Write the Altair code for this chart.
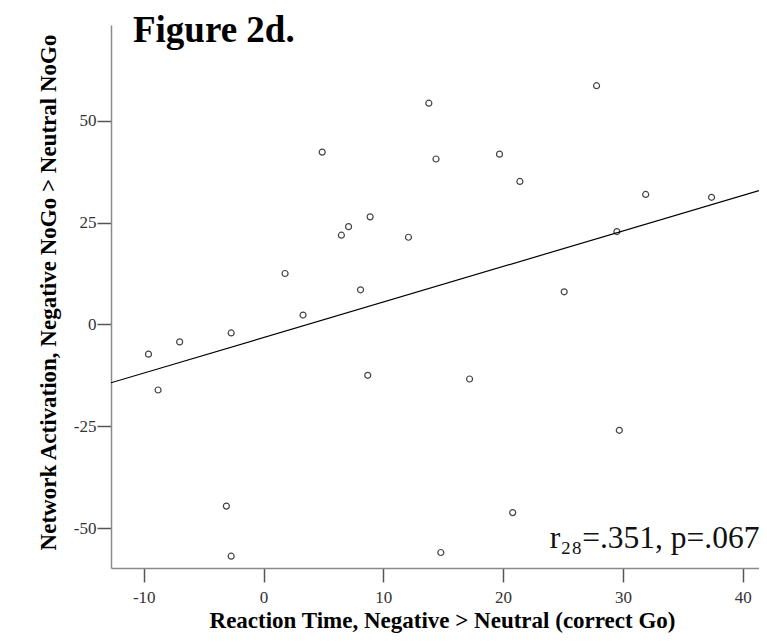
import altair as alt
import pandas as pd

# Scatter data
rt_diff = [13.8, 27.8, 14.4, 19.7, 21.4, 31.9, 37.4, 4.9, 6.5, 7.1, 8.9, 1.8, 8.1, 3.3,
           -2.7, -7.0, -9.6, -8.8, 8.7, 12.1, 29.5, 25.1, 17.2, -3.1, -2.7, 29.7, 20.8, 14.8]
activation = [54.3, 58.6, 40.6, 41.8, 35.1, 31.9, 31.2, 42.3, 21.9, 24.0, 26.4, 12.5, 8.5, 2.3,
              -2.1, -4.3, -7.3, -16.1, -12.5, 21.4, 22.8, 8.0, -13.4, -44.6, -56.9, -26.0, -46.2, -56.0]

x_ticks = [-10, 0, 10, 20, 30, 40]
y_ticks = [-50, -25, 0, 25, 50]
x_domain = [-12.73, 41.36]
y_domain = [-59.8, 73.5]

# Annotations placed in data coordinates
ann_text = ["r\u2082\u2088=.351, p=.067"]
ann_x = [41.4]
ann_y = [-55.0]

fig_text = ["Figure 2d."]
fig_x = [-10.9]
fig_y = [69.4]

df = pd.DataFrame({"rt": rt_diff, "act": activation})
ann = pd.DataFrame({"x": ann_x, "y": ann_y, "t": ann_text})
fig = pd.DataFrame({"x": fig_x, "y": fig_y, "t": fig_text})

SERIF = "Liberation Serif"

x_axis = alt.Axis(values=x_ticks, grid=False, tickSize=14, labelPadding=7,
                  labelFontSize=17, labelFont=SERIF, labelColor="#333333",
                  labelExpr="'' + datum.value",
                  domainColor="#8a8a8a", domainWidth=1.5, tickColor="#555555", tickWidth=1.5,
                  title="Reaction Time, Negative > Neutral (correct Go)",
                  titleFont=SERIF, titleFontSize=23, titleFontWeight="bold", titleColor="black",
                  titleY=59, titleX=331, titleBaseline="alphabetic")
y_axis = alt.Axis(values=y_ticks, grid=False, tickSize=14, labelPadding=1,
                  labelFontSize=17, labelFont=SERIF, labelColor="#333333",
                  labelExpr="'' + datum.value",
                  domainColor="#8a8a8a", domainWidth=1.5, tickColor="#555555", tickWidth=1.5,
                  title="Network Activation, Negative NoGo > Neutral NoGo",
                  titleFont=SERIF, titleFontSize=23, titleFontWeight="bold", titleColor="black",
                  titleX=-56, titleY=267, titleBaseline="alphabetic")

xs = alt.Scale(domain=x_domain, nice=False, zero=False)
ys = alt.Scale(domain=y_domain, nice=False, zero=False)

base = alt.Chart(df)

points = base.mark_point(shape="circle", filled=False, size=36, color="#444444",
                         strokeWidth=1.2, opacity=1).encode(
    x=alt.X("rt:Q", scale=xs, axis=x_axis),
    y=alt.Y("act:Q", scale=ys, axis=y_axis),
)

fit = base.transform_regression("rt", "act", extent=x_domain).mark_line(
    color="black", strokeWidth=1.2, clip=True).encode(
    x=alt.X("rt:Q", scale=xs),
    y=alt.Y("act:Q", scale=ys),
)

label = alt.Chart(ann).mark_text(align="right", baseline="alphabetic", font=SERIF,
                                 fontSize=31.5, color="#111111").encode(
    x=alt.X("x:Q", scale=xs),
    y=alt.Y("y:Q", scale=ys),
    text="t:N",
)

fig_label = alt.Chart(fig).mark_text(align="left", baseline="alphabetic", font=SERIF,
                                     fontSize=37, fontWeight="bold", color="black").encode(
    x=alt.X("x:Q", scale=xs),
    y=alt.Y("y:Q", scale=ys),
    text="t:N",
)

chart = alt.layer(points, fit, label, fig_label).properties(
    width=648, height=543,
    autosize=alt.AutoSizeParams(type="none"),
    padding={"left": 103, "top": 17, "right": 0, "bottom": 66},
).configure_view(strokeWidth=0)

chart.save("out.html", embed_options={"renderer": "svg", "actions": False})
